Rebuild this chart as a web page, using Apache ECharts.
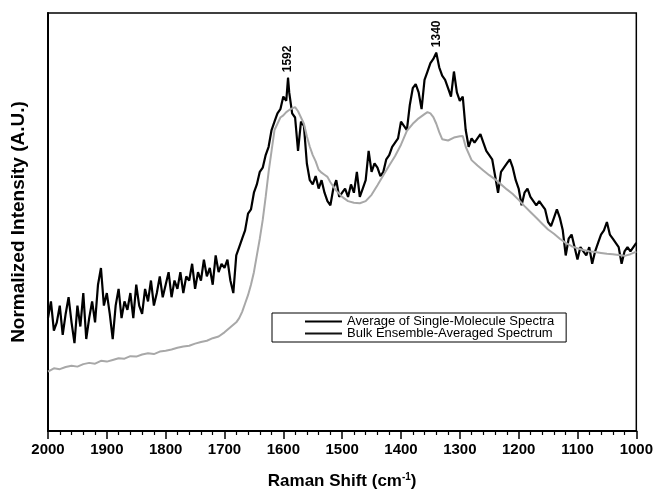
<!DOCTYPE html>
<html>
<head>
<meta charset="utf-8">
<script src="https://cdn.jsdelivr.net/npm/echarts@6/dist/echarts.min.js"></script>
<style>
  html, body { margin: 0; padding: 0; background: #fff; }
  #chart { width: 656px; height: 502px; }
</style>
</head>
<body>
<div id="chart"></div>
<script>
// Raman shift axis ticks (cm^-1)
const shiftTicks = [2000, 1900, 1800, 1700, 1600, 1500, 1400, 1300, 1200, 1100, 1000];

// Labelled band positions (cm^-1)
const peakLabels = [1592, 1340];

const seriesNames = ['Average of Single-Molecule Spectra', 'Bulk Ensemble-Averaged Spectrum'];

// Average of single-molecule spectra: [shift, normalized intensity]
const singleMoleculeAvg = [
  [2000, 27], [1995, 31], [1990, 24], [1985, 26], [1980, 30], [1975, 23], [1970, 28], [1965, 32],
  [1960, 26], [1955, 21], [1950, 30], [1945, 25], [1940, 33], [1935, 22], [1930, 27], [1925, 31],
  [1920, 26], [1915, 35], [1910, 39], [1905, 30], [1900, 33], [1895, 28], [1890, 22], [1885, 30],
  [1880, 34], [1875, 27], [1870, 31], [1865, 29], [1860, 33], [1855, 27], [1850, 35], [1845, 30],
  [1840, 28], [1835, 34], [1830, 31], [1825, 36], [1820, 30], [1815, 33], [1810, 37], [1805, 32],
  [1800, 35], [1795, 38], [1790, 32], [1785, 36], [1780, 34], [1775, 38], [1770, 33], [1765, 37],
  [1760, 36], [1755, 40], [1750, 34], [1745, 38], [1740, 36], [1735, 41], [1730, 37], [1725, 39],
  [1720, 35], [1715, 42], [1710, 38], [1705, 40], [1700, 39], [1695, 41], [1690, 36], [1685, 33],
  [1680, 42], [1675, 44], [1670, 46], [1665, 48], [1660, 52], [1655, 53], [1650, 57], [1645, 59],
  [1640, 62], [1635, 63], [1630, 66], [1625, 68], [1620, 72], [1615, 74], [1610, 76], [1605, 77],
  [1600, 80], [1595, 79], [1592, 84.5], [1590, 81], [1585, 76], [1580, 75], [1575, 67], [1570, 74],
  [1565, 73], [1560, 64], [1555, 60], [1550, 59], [1545, 61], [1540, 58], [1535, 60], [1530, 57],
  [1525, 55], [1520, 54], [1515, 58], [1510, 60], [1505, 56], [1500, 57], [1495, 58], [1490, 56],
  [1485, 59], [1480, 57], [1475, 62], [1470, 56], [1465, 58], [1460, 60], [1455, 67], [1450, 62],
  [1445, 64], [1440, 63], [1435, 61], [1430, 62], [1425, 65], [1420, 66], [1415, 68], [1410, 69],
  [1405, 70], [1400, 74], [1395, 73], [1390, 72], [1385, 78], [1380, 82], [1375, 83], [1370, 81],
  [1365, 77], [1360, 84], [1355, 86], [1350, 88], [1345, 89], [1340, 90.5], [1335, 87], [1330, 85],
  [1325, 84], [1320, 82], [1315, 80], [1310, 86], [1305, 81], [1300, 79], [1295, 80], [1290, 72],
  [1285, 68], [1280, 70], [1275, 69], [1270, 70], [1265, 71], [1260, 69], [1255, 67], [1250, 66],
  [1245, 65], [1240, 61], [1235, 57], [1230, 62], [1225, 63], [1220, 64], [1215, 65], [1210, 63],
  [1205, 60], [1200, 58], [1195, 54], [1190, 57], [1185, 58], [1180, 56], [1175, 55], [1170, 54],
  [1165, 55], [1160, 54], [1155, 53], [1150, 50], [1145, 49], [1140, 51], [1135, 53], [1130, 51],
  [1125, 48], [1120, 42], [1115, 46], [1110, 47], [1105, 44], [1100, 41], [1095, 44], [1090, 43],
  [1085, 42], [1080, 44], [1075, 40], [1070, 43], [1065, 45], [1060, 47], [1055, 48], [1050, 50],
  [1045, 47], [1040, 46], [1035, 45], [1030, 44], [1025, 40], [1020, 43], [1015, 44], [1010, 43],
  [1005, 44], [1000, 45]
];

// Bulk ensemble-averaged spectrum: [shift, normalized intensity]
const bulkEnsemble = [
  [2000, 14.2], [1990, 15.0], [1980, 14.8], [1970, 15.3], [1960, 15.6], [1950, 15.4], [1940, 16.0],
  [1930, 16.3], [1920, 16.1], [1910, 16.8], [1900, 16.6], [1890, 17.0], [1880, 17.4], [1870, 17.3],
  [1860, 17.9], [1850, 17.8], [1840, 18.3], [1830, 18.6], [1820, 18.4], [1810, 19.0], [1800, 19.2],
  [1790, 19.5], [1780, 19.9], [1770, 20.2], [1760, 20.4], [1750, 20.9], [1740, 21.3], [1730, 21.6],
  [1720, 22.2], [1710, 22.6], [1700, 23.6], [1690, 24.8], [1680, 26.0], [1675, 27.0], [1670, 28.5],
  [1665, 30.5], [1660, 32.5], [1655, 35], [1650, 38], [1645, 42], [1640, 46], [1635, 50.5],
  [1630, 56], [1625, 62], [1620, 67], [1615, 72], [1610, 73.5], [1605, 75], [1600, 75.5],
  [1595, 76.3], [1590, 76.8], [1585, 77.2], [1580, 77.5], [1575, 76.5], [1570, 75], [1565, 73.5],
  [1560, 70.5], [1555, 68], [1550, 66], [1545, 64.5], [1540, 62.5], [1535, 61.8], [1530, 61.3],
  [1525, 60.8], [1520, 59.5], [1510, 57.5], [1500, 56], [1490, 55], [1480, 54.6], [1470, 54.5],
  [1460, 55], [1450, 56.5], [1440, 58.8], [1430, 61.2], [1420, 63.5], [1410, 65.8], [1400, 68.5],
  [1390, 71.8], [1380, 73.5], [1370, 74.8], [1360, 75.8], [1355, 76.3], [1350, 76.0], [1345, 75.1],
  [1340, 73.5], [1335, 71.5], [1330, 69.8], [1320, 69.5], [1310, 70.2], [1300, 70.5], [1295, 70.6],
  [1290, 68], [1280, 64.8], [1270, 63.5], [1260, 62.3], [1250, 61.2], [1240, 60.2], [1230, 59.0],
  [1220, 57.8], [1210, 56.7], [1200, 55.3], [1190, 53.8], [1180, 52.4], [1170, 51.0], [1160, 49.6],
  [1150, 48.2], [1140, 47.2], [1130, 46.0], [1120, 45.0], [1110, 44.2], [1100, 43.7], [1090, 43.3],
  [1080, 43.0], [1070, 42.8], [1060, 42.6], [1050, 42.4], [1040, 42.3], [1030, 42.1], [1020, 41.9],
  [1010, 42.3], [1000, 42.9]
];

const FONT = '"Liberation Sans", Arial, Helvetica, sans-serif';

// Vertical shift labels sitting on the two band maxima
const peakMarks = peakLabels.map(function (s) {
  const p = singleMoleculeAvg.find(function (d) { return d[0] === s; });
  return { coord: p, value: s };
});

const chart = echarts.init(document.getElementById('chart'), null, { renderer: 'canvas' });

chart.setOption({
  animation: false,
  backgroundColor: '#fff',
  grid: {
    left: 48, right: 19, top: 13, bottom: 71,
    show: true, borderColor: '#000', borderWidth: 1.5
  },
  legend: {
    orient: 'vertical',
    left: 272,
    top: 313,
    padding: [2, 12, 2, 33],
    itemGap: -1,
    itemWidth: 37,
    itemHeight: 2,
    icon: 'rect',
    borderColor: '#000',
    borderWidth: 1,
    backgroundColor: '#fff',
    textStyle: { fontFamily: FONT, fontSize: 13, color: '#000', lineHeight: 13 },
    data: [
      { name: seriesNames[0], itemStyle: { color: '#000' } },
      { name: seriesNames[1], itemStyle: { color: '#111' } }
    ]
  },
  xAxis: {
    type: 'value',
    inverse: true,
    min: shiftTicks[shiftTicks.length - 1],
    max: shiftTicks[0],
    interval: 100,
    name: 'Raman Shift (cm{sup|-1})',
    nameLocation: 'middle',
    nameGap: 41,
    nameTextStyle: {
      fontFamily: FONT, fontSize: 17, fontWeight: 'bold', color: '#000',
      rich: { sup: { fontFamily: FONT, fontSize: 10, fontWeight: 'bold', color: '#000', verticalAlign: 'top', padding: [0, 0, 9, 0] } }
    },
    axisLine: { show: true, lineStyle: { color: '#000', width: 2 } },
    axisTick: { show: true, inside: false, length: 8, lineStyle: { color: '#000', width: 1.5 } },
    minorTick: { show: true, splitNumber: 5, length: 4, lineStyle: { color: '#000', width: 1.2 } },
    axisLabel: {
      margin: 11, fontFamily: FONT, fontSize: 15, fontWeight: 'bold', color: '#000',
      formatter: function (v) { return shiftTicks.indexOf(v) >= 0 ? String(v) : ''; }
    },
    splitLine: { show: false }
  },
  yAxis: {
    type: 'value',
    min: 0,
    max: 100,
    name: 'Normalized Intensity (A.U.)',
    nameLocation: 'middle',
    nameGap: 20,
    nameTextStyle: { fontFamily: FONT, fontSize: 19, fontWeight: 'bold', color: '#000' },
    axisLine: { show: true, lineStyle: { color: '#000', width: 2 } },
    axisTick: { show: false },
    axisLabel: { show: false },
    splitLine: { show: false }
  },
  series: [
    {
      name: seriesNames[0],
      type: 'line',
      data: singleMoleculeAvg,
      showSymbol: false,
      symbol: 'none',
      lineStyle: { color: '#000', width: 2.2 },
      itemStyle: { color: '#000' },
      z: 2,
      markPoint: {
        symbol: 'circle',
        symbolSize: 1,
        itemStyle: { color: '#000' },
        label: {
          show: true,
          position: 'top',
          distance: 5,
          rotate: 90,
          align: 'left',
          verticalAlign: 'middle',
          formatter: function (d) { return String(d.value); },
          fontFamily: FONT,
          fontWeight: 'bold',
          fontSize: 12,
          color: '#000'
        },
        data: peakMarks
      }
    },
    {
      name: seriesNames[1],
      type: 'line',
      data: bulkEnsemble,
      showSymbol: false,
      symbol: 'none',
      lineStyle: { color: '#a8a8a8', width: 2 },
      itemStyle: { color: '#a8a8a8' },
      z: 3
    }
  ]
});
</script>
</body>
</html>
